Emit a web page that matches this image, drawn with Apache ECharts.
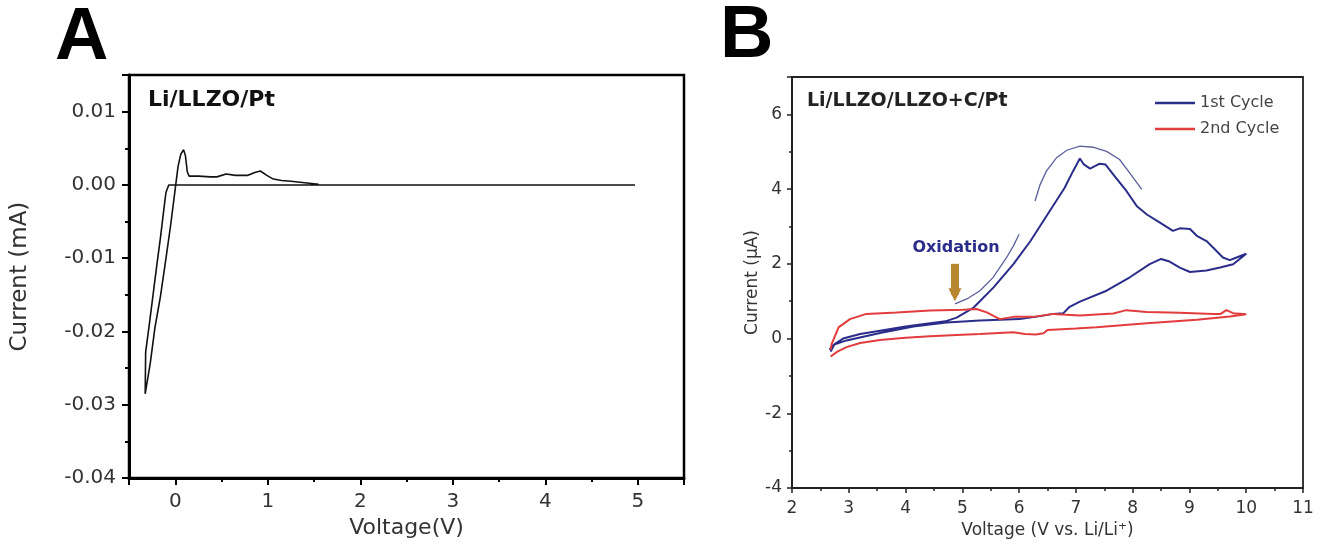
<!DOCTYPE html>
<html>
<head>
<meta charset="utf-8">
<script src="https://cdn.jsdelivr.net/npm/echarts@6/dist/echarts.min.js"></script>
<style>html,body{margin:0;padding:0;background:#fff;}#c{width:1321px;height:544px;}</style>
</head>
<body>
<div id="c"></div>
<script>
// ---------- Panel A : Li/LLZO/Pt ----------
const voltageA = [4.97, 1.60, 0.40, -0.07, -0.10, -0.12, -0.16, -0.20, -0.24, -0.28, -0.32, -0.325,
  -0.27, -0.22, -0.16, -0.10, -0.05, 0.00, 0.03, 0.06, 0.09, 0.11, 0.13, 0.15, 0.25, 0.38, 0.45,
  0.55, 0.65, 0.78, 0.86, 0.92, 0.99, 1.06, 1.15, 1.25, 1.40, 1.55];
const currentA = [0.0000, 0.0000, 0.0000, 0.0000, -0.0010, -0.0030, -0.0072, -0.0110, -0.0150, -0.0190, -0.0228, -0.0285,
  -0.0243, -0.0195, -0.0152, -0.0100, -0.0055, -0.0005, 0.0025, 0.0042, 0.0048, 0.0040, 0.0018, 0.0012, 0.0012, 0.0011, 0.0011,
  0.0015, 0.0013, 0.0013, 0.0017, 0.0019, 0.0013, 0.0008, 0.0006, 0.0005, 0.0003, 0.0001];

// ---------- Panel B : Li/LLZO/LLZO+C/Pt ----------
const voltageB1 = [2.68, 2.75, 2.90, 3.20, 3.55, 4.00, 4.40, 4.70, 4.90, 5.20, 5.55, 5.90, 6.20, 6.50, 6.80, 6.95,
  7.07, 7.14, 7.25, 7.42, 7.52, 7.66, 7.89, 8.07, 8.25, 8.48, 8.71, 8.83, 9.01, 9.13, 9.30, 9.42, 9.59, 9.71, 9.83, 10.0,
  9.77, 9.54, 9.30, 9.01, 8.83, 8.65, 8.50, 8.30, 7.95, 7.54, 7.07, 6.89, 6.78, 6.60, 6.37, 6.01, 5.31, 4.72, 4.14, 3.55,
  2.96, 2.73, 2.66];
const currentB1 = [-0.35, -0.15, 0.00, 0.12, 0.21, 0.32, 0.40, 0.46, 0.56, 0.83, 1.37, 1.99, 2.61, 3.32, 4.03, 4.48,
  4.82, 4.66, 4.55, 4.68, 4.66, 4.39, 3.95, 3.55, 3.32, 3.10, 2.88, 2.95, 2.93, 2.75, 2.61, 2.43, 2.17, 2.10, 2.17, 2.27,
  1.99, 1.90, 1.82, 1.78, 1.90, 2.06, 2.13, 1.99, 1.64, 1.28, 0.99, 0.85, 0.68, 0.66, 0.60, 0.52, 0.48, 0.43, 0.32, 0.15,
  -0.05, -0.17, -0.30];
const voltageB2 = [2.68, 2.80, 2.96, 3.20, 3.55, 4.00, 4.43, 5.00, 5.31, 5.90, 6.10, 6.30, 6.43, 6.50, 7.00, 7.36, 8.25,
  9.13, 9.71, 10.0, 9.77, 9.65, 9.55, 9.42, 8.83, 8.25, 7.89, 7.66, 7.07, 6.60, 6.25, 5.90, 5.66, 5.43, 5.25, 5.02, 4.43,
  3.84, 3.31, 3.02, 2.82, 2.70, 2.68];
const currentB2 = [-0.48, -0.35, -0.23, -0.12, -0.04, 0.02, 0.06, 0.10, 0.12, 0.17, 0.12, 0.11, 0.14, 0.23, 0.27, 0.30, 0.41,
  0.50, 0.59, 0.65, 0.68, 0.76, 0.66, 0.66, 0.69, 0.71, 0.76, 0.67, 0.62, 0.66, 0.58, 0.58, 0.52, 0.70, 0.79, 0.77, 0.75,
  0.70, 0.66, 0.52, 0.30, -0.14, -0.30];

// annotation arrows (data coordinates of panel B)
const arrow1V = [4.87, 5.08, 5.31, 5.54, 5.78, 5.90, 6.00];
const arrow1I = [0.93, 1.06, 1.28, 1.63, 2.17, 2.48, 2.79];
const arrow2V = [6.28, 6.37, 6.48, 6.66, 6.84, 7.07, 7.30, 7.54, 7.77, 7.95, 8.16];
const arrow2I = [3.68, 4.12, 4.48, 4.84, 5.04, 5.15, 5.12, 5.01, 4.79, 4.43, 3.99];
const oxArrowV = [4.87, 4.87];
const oxArrowI = [2.00, 1.17];

const seriesNames = ['1st Cycle', '2nd Cycle'];

const zip = (a, b) => a.map((v, i) => [v, b[i]]);
const FONT = 'DejaVu Sans';

const chart = echarts.init(document.getElementById('c'), null, {renderer: 'canvas'});

const axisA = (extra) => Object.assign({
  type: 'value',
  axisLine: {onZero: false, lineStyle: {color: '#000', width: 3}},
  axisTick: {length: 7, lineStyle: {color: '#000', width: 2}},
  minorTick: {show: true, splitNumber: 2, length: 4, lineStyle: {color: '#000', width: 2}},
  splitLine: {show: false},
  minorSplitLine: {show: false},
  axisLabel: {fontFamily: FONT, fontSize: 20, color: '#333'},
  nameTextStyle: {fontFamily: FONT, fontSize: 22, color: '#333'}
}, extra);

const axisB = (extra) => Object.assign({
  type: 'value',
  axisLine: {onZero: false, lineStyle: {color: '#222', width: 2}},
  axisTick: {length: 5, lineStyle: {color: '#222', width: 1.5}},
  minorTick: {show: true, splitNumber: 2, length: 3, lineStyle: {color: '#222', width: 1.5}},
  splitLine: {show: false},
  minorSplitLine: {show: false},
  axisLabel: {fontFamily: FONT, fontSize: 17, color: '#333'},
  nameTextStyle: {fontFamily: FONT, fontSize: 17, color: '#333'}
}, extra);

const option = {
  animation: false,
  backgroundColor: '#fff',
  grid: [
    {left: 129, top: 75, width: 555, height: 413, show: true, borderColor: '#000', borderWidth: 2.5, backgroundColor: 'transparent'},
    {left: 792, top: 77, width: 511, height: 411, show: true, borderColor: '#222', borderWidth: 1.8, backgroundColor: 'transparent'}
  ],
  xAxis: [
    axisA({gridIndex: 0, min: -0.5, max: 5.5, minInterval: 1, maxInterval: 1,
      axisLabel: {fontFamily: FONT, fontSize: 20, color: '#333', margin: 14, showMinLabel: false, showMaxLabel: false},
      name: 'Voltage(V)', nameLocation: 'middle', nameGap: 32}),
    axisB({gridIndex: 1, min: 2, max: 11, interval: 1,
      axisLabel: {fontFamily: FONT, fontSize: 17, color: '#333', margin: 12},
      name: 'Voltage (V vs. Li/Li\u207A)', nameLocation: 'middle', nameGap: 33})
  ],
  yAxis: [
    axisA({gridIndex: 0, min: -0.04, max: 0.015, interval: 0.01,
      axisLabel: {fontFamily: FONT, fontSize: 20, color: '#333', margin: 13, showMaxLabel: false,
        formatter: v => (Math.abs(v) < 1e-9 ? '0.00' : v.toFixed(2))},
      name: 'Current (mA)', nameLocation: 'middle', nameGap: 97, nameTextStyle: {fontFamily: FONT, fontSize: 23, color: '#333'}}),
    axisB({gridIndex: 1, min: -4, max: 7, interval: 2,
      axisLabel: {fontFamily: FONT, fontSize: 17, color: '#333', margin: 10, showMaxLabel: false},
      name: 'Current (\u03BCA)', nameLocation: 'middle', nameGap: 22})
  ],
  legend: {
    data: seriesNames,
    orient: 'vertical', left: 1150, top: 90, itemWidth: 40, itemHeight: 2.5, itemGap: 10,
    icon: 'rect',
    textStyle: {fontFamily: FONT, fontSize: 16, color: '#444'}
  },
  series: [
    {type: 'line', xAxisIndex: 0, yAxisIndex: 0, data: zip(voltageA, currentA), showSymbol: false, symbol: 'none',
      lineStyle: {color: '#111', width: 1.6}},
    {name: seriesNames[0], type: 'line', xAxisIndex: 1, yAxisIndex: 1, data: zip(voltageB1, currentB1), showSymbol: false, symbol: 'none',
      color: '#2b2d8a', lineStyle: {color: '#2b2d8a', width: 2}},
    {name: seriesNames[1], type: 'line', xAxisIndex: 1, yAxisIndex: 1, data: zip(voltageB2, currentB2), showSymbol: false, symbol: 'none',
      color: '#e23c3c', lineStyle: {color: '#e23c3c', width: 2}},
    {type: 'lines', coordinateSystem: 'cartesian2d', xAxisIndex: 1, yAxisIndex: 1, polyline: true,
      symbol: ['none', 'arrow'], symbolSize: 8, silent: true,
      lineStyle: {color: '#5b5f9c', width: 1.3, opacity: 1},
      data: [{coords: zip(arrow1V, arrow1I)}, {coords: zip(arrow2V, arrow2I)}]},
    {type: 'lines', coordinateSystem: 'cartesian2d', xAxisIndex: 1, yAxisIndex: 1,
      symbol: ['none', 'triangle'], symbolSize: [18, 13], silent: true,
      lineStyle: {color: '#b8862e', width: 8, opacity: 1},
      data: [{coords: zip(oxArrowV, oxArrowI)}]}
  ],
  graphic: [
    {type: 'text', x: 55, y: 39, style: {text: 'A', font: 'bold 74px "Liberation Sans"', fill: '#000', verticalAlign: 'middle', align: 'left'}},
    {type: 'text', x: 720, y: 37, style: {text: 'B', font: 'bold 74px "Liberation Sans"', fill: '#000', verticalAlign: 'middle', align: 'left'}},
    {type: 'text', x: 148, y: 100, style: {text: 'Li/LLZO/Pt', font: 'bold 22px "DejaVu Sans"', fill: '#111', verticalAlign: 'middle', align: 'left'}},
    {type: 'text', x: 807, y: 101, style: {text: 'Li/LLZO/LLZO+C/Pt', font: 'bold 19px "DejaVu Sans"', fill: '#222', verticalAlign: 'middle', align: 'left'}},
    {type: 'text', x: 956, y: 248, style: {text: 'Oxidation', font: 'bold 16px "DejaVu Sans"', fill: '#2b2d8a', verticalAlign: 'middle', align: 'center'}}
  ]
};
chart.setOption(option);
</script>
</body>
</html>
